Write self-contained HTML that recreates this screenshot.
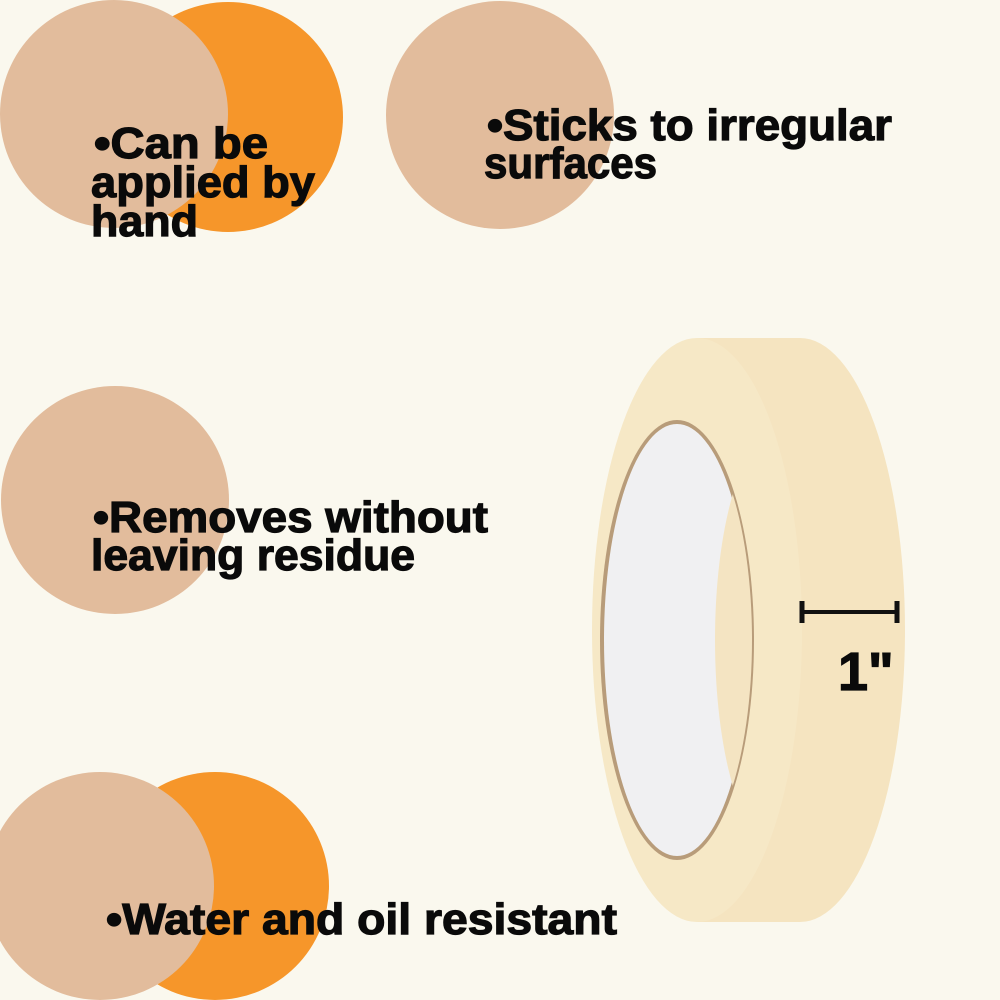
<!DOCTYPE html>
<html><head><meta charset="utf-8"><style>
html,body{margin:0;padding:0;background:#FAF8EE;}
body{width:1000px;height:1000px;position:relative;overflow:hidden;}
svg{position:absolute;left:0;top:0;}
.t{font-family:"Liberation Sans",sans-serif;font-weight:bold;font-size:44px;fill:#0a0a0a;stroke:#0a0a0a;stroke-width:1.2px;}
</style></head><body>
<svg width="1000" height="1000" viewBox="0 0 1000 1000">
<rect width="1000" height="1000" fill="#FAF8EE"/>
<circle cx="228" cy="117" r="115" fill="#F6962A"/>
<circle cx="114" cy="114" r="114" fill="#E2BC9C"/>
<circle cx="500" cy="115" r="114" fill="#E2BC9C"/>
<circle cx="115" cy="500" r="114" fill="#E2BC9C"/>
<circle cx="215" cy="886" r="114" fill="#F6962A"/>
<circle cx="100" cy="886" r="114" fill="#E2BC9C"/>
<defs><clipPath id="hole"><ellipse cx="677" cy="640" rx="75" ry="218"/></clipPath></defs>
<ellipse cx="800" cy="630" rx="105" ry="292" fill="#F5E4C0"/>
<rect x="697" y="338" width="103" height="584" fill="#F5E4C0"/>
<ellipse cx="697" cy="630" rx="105" ry="292" fill="#F6E8C6"/>
<ellipse cx="677" cy="640" rx="77" ry="220" fill="#B89C7A"/>
<ellipse cx="677" cy="640" rx="73" ry="216" fill="#F0F0F2"/>
<g clip-path="url(#hole)"><ellipse cx="775" cy="640" rx="60" ry="205" fill="#F4E4C2"/></g>
<line x1="802" y1="612" x2="897" y2="612" stroke="#111" stroke-width="4"/>
<line x1="802" y1="601" x2="802" y2="623" stroke="#111" stroke-width="5"/>
<line x1="897" y1="601" x2="897" y2="623" stroke="#111" stroke-width="5"/>
<text x="838" y="690" class="t" style="font-size:54px">1"</text>
<text class="t" x="94" y="158" textLength="174" lengthAdjust="spacingAndGlyphs">•Can be</text>
<text class="t" x="91" y="197" textLength="224" lengthAdjust="spacingAndGlyphs">applied by</text>
<text class="t" x="91" y="236" textLength="107" lengthAdjust="spacingAndGlyphs">hand</text>
<text class="t" x="487" y="140" textLength="405" lengthAdjust="spacingAndGlyphs">•Sticks to irregular</text>
<text class="t" x="484" y="178" textLength="173" lengthAdjust="spacingAndGlyphs">surfaces</text>
<text class="t" x="93" y="532" textLength="395" lengthAdjust="spacingAndGlyphs">•Removes without</text>
<text class="t" x="91" y="570" textLength="324" lengthAdjust="spacingAndGlyphs">leaving residue</text>
<text class="t" x="106" y="934" textLength="511" lengthAdjust="spacingAndGlyphs">•Water and oil resistant</text>
</svg>
</body></html>
